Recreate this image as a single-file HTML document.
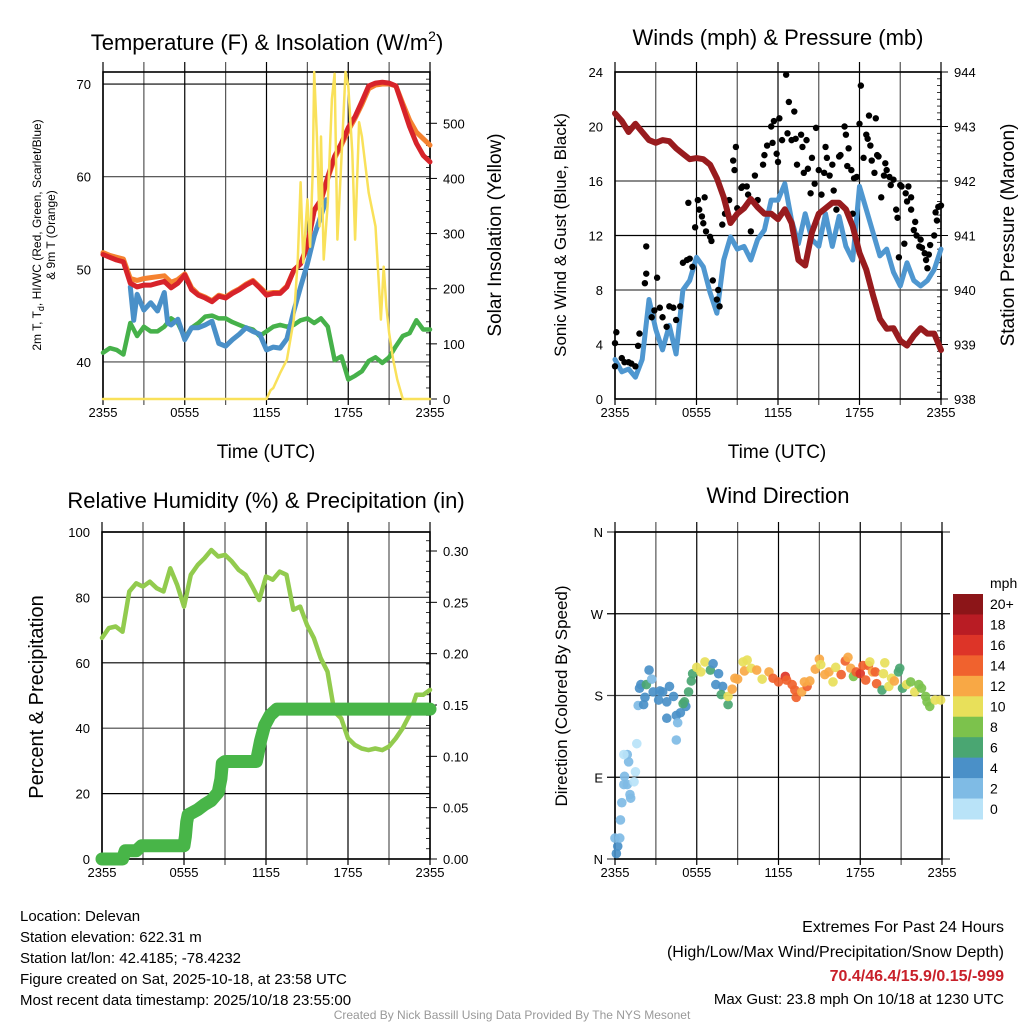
<!DOCTYPE html>
<html><head><meta charset="utf-8"><style>
html,body{margin:0;padding:0;background:#fff}
svg{display:block;font-family:"Liberation Sans",sans-serif}
</style></head><body>
<svg id="root" width="1024" height="1024" viewBox="0 0 1024 1024">
<g fill="#000">
<text x="267" y="50" font-size="22" text-anchor="middle">Temperature (F) &amp; Insolation (W/m<tspan font-size="14" dy="-9">2</tspan><tspan dy="9">)</tspan></text>
<text x="778" y="45" font-size="22" text-anchor="middle">Winds (mph) &amp; Pressure (mb)</text>
<text x="266" y="508" font-size="22" text-anchor="middle">Relative Humidity (%) &amp; Precipitation (in)</text>
<text x="778" y="503" font-size="22" text-anchor="middle">Wind Direction</text>
<text x="266" y="458" font-size="19" text-anchor="middle">Time (UTC)</text>
<text x="777" y="458" font-size="19" text-anchor="middle">Time (UTC)</text>
<text transform="translate(41,235) rotate(-90)" font-size="12" text-anchor="middle">2m T, T<tspan font-size="9" dy="3">d</tspan><tspan dy="-3">, HI/WC (Red, Green, Scarlet/Blue)</tspan></text>
<text transform="translate(55,235) rotate(-90)" font-size="12" text-anchor="middle">&amp; 9m T (Orange)</text>
<text transform="translate(501,235) rotate(-90)" font-size="19" text-anchor="middle">Solar Insolation (Yellow)</text>
<text transform="translate(566,235) rotate(-90)" font-size="17" text-anchor="middle">Sonic Wind &amp; Gust (Blue, Black)</text>
<text transform="translate(1014,235) rotate(-90)" font-size="19" text-anchor="middle">Station Pressure (Maroon)</text>
<text transform="translate(43,697) rotate(-90)" font-size="20" text-anchor="middle">Percent &amp; Precipitation</text>
<text transform="translate(567,696) rotate(-90)" font-size="17" text-anchor="middle">Direction (Colored By Speed)</text>
</g>
<g font-size="15" fill="#000">
<text x="20" y="921">Location: Delevan</text>
<text x="20" y="942">Station elevation: 622.31 m</text>
<text x="20" y="963">Station lat/lon: 42.4185; -78.4232</text>
<text x="20" y="984">Figure created on Sat, 2025-10-18, at 23:58 UTC</text>
<text x="20" y="1005">Most recent data timestamp: 2025/10/18 23:55:00</text>
</g>
<g font-size="15" fill="#000" text-anchor="end">
<text x="1004" y="932" font-size="16">Extremes For Past 24 Hours</text>
<text x="1004" y="957" font-size="16">(High/Low/Max Wind/Precipitation/Snow Depth)</text>
<text x="1004" y="981" font-size="16" font-weight="bold" fill="#c8202a">70.4/46.4/15.9/0.15/-999</text>
<text x="1004" y="1004">Max Gust: 23.8 mph On 10/18 at 1230 UTC</text>
</g>
<text x="512" y="1019" font-size="12" fill="#999" text-anchor="middle">Created By Nick Bassill Using Data Provided By The NYS Mesonet</text>
</svg>
<script>
// ---------- DATA ----------
const lineTimes=[0,0.5,1,1.5,2,2.5,3,3.5,4,4.5,5,5.5,6,6.5,7,7.5,8,8.5,9,9.5,10,10.5,11,11.5,12,12.5,13,13.5,14,14.5,15,15.5,16,16.5,17,17.5,18,18.5,19,19.5,20,20.5,21,21.5,22,22.5,23,23.5,24];
const tempRed=[51.6,51.3,51.0,50.8,48.5,48.1,48.3,48.3,48.5,48.7,48.0,48.5,49.4,47.8,47.2,46.9,46.5,47.1,46.9,47.4,47.8,48.3,48.7,48.0,47.2,47.4,47.4,48.1,49.9,50.6,52.6,56.4,57.5,60.0,62.2,63.6,65.3,66.5,68.1,69.8,70.1,70.2,70.1,69.8,67.6,65.4,63.6,62.3,61.6];
const temp9m=[51.8,51.5,51.3,51.1,49.0,48.8,49.0,49.1,49.2,49.3,48.6,48.9,49.5,48.0,47.3,47.0,46.6,47.2,47.0,47.5,47.9,48.4,48.8,48.1,47.4,47.5,47.5,48.2,49.9,50.6,52.6,56.3,57.4,59.8,62.0,63.4,65.0,66.3,67.8,69.5,69.9,70.0,70.0,69.8,67.9,66.1,64.8,64.1,63.4];
const dewGreen=[41.0,41.5,41.3,40.8,44.2,42.8,43.8,43.3,43.3,43.8,44.7,44.2,42.6,43.7,44.2,44.9,45.0,44.7,44.7,44.3,44.0,43.7,43.5,42.8,43.3,43.8,44.0,43.8,44.0,44.5,44.7,44.2,44.7,43.8,40.2,40.6,38.1,38.5,39.0,40.1,40.5,39.9,40.5,41.7,42.8,43.1,44.5,43.5,43.5];
const hiwcTimes=[2,2.25,2.5,3,3.5,4,4.5,4.75,5,5.5,6,6.5,7,7.5,8,8.5,9,9.5,10,10.5,11,11.5,12,12.5,13,13.5,14,14.5,15,15.5,16,16.4];
const hiwcBlue=[48.1,44.5,47.3,45.6,46.4,45.5,47.5,44.2,44.0,44.6,42.4,43.7,43.7,44.0,44.4,42.0,41.7,42.4,43.0,43.7,43.3,43.0,41.3,41.6,41.5,42.5,45.5,48.1,50.6,53.6,55.8,57.5];
const solarTimes=[0,12,12.3,12.5,13,13.5,14,14.3,14.5,14.7,15,15.2,15.4,15.5,15.7,15.9,16,16.2,16.5,16.8,17,17.2,17.5,17.8,18,18.3,18.5,18.8,19,19.5,20,20.2,20.4,20.6,20.8,21,21.3,21.6,22,24];
const solarValues=[0,0,16,20,47,71,144,253,393,247,362,276,416,593,476,313,476,253,356,544,590,289,434,593,567,447,289,502,476,374,313,229,144,240,167,120,71,35,0,0];
const pressure=[943.24,943.1,942.9,943.05,942.9,942.75,942.7,942.75,942.73,942.6,942.5,942.4,942.42,942.4,942.3,942.05,941.7,941.23,941.4,941.5,941.67,941.52,941.4,941.4,941.3,941.48,941.23,940.55,940.45,941.06,941.4,941.5,941.6,941.6,941.48,941.17,940.68,940.37,939.9,939.47,939.29,939.3,939.07,938.98,939.16,939.3,939.2,939.2,938.9];
const windSpeed=[2.9,2.0,2.2,1.6,2.9,7.3,5.1,3.6,5.4,3.3,8.0,8.7,10.4,9.7,7.8,6.3,10.2,11.9,11.0,11.2,10.2,11.7,12.4,14.6,14.6,15.8,13.1,11.4,13.6,11.7,11.2,13.6,11.2,13.4,11.2,10.2,15.6,13.9,12.2,10.5,11.0,9.3,8.3,10.0,8.7,8.3,8.7,9.5,11.0];
const gustTimes=[0.0,0.1,0.0,0.5,1.0,1.5,1.8,2.2,2.3,2.3,2.7,3.1,3.3,3.8,4.0,4.5,4.8,5.0,5.3,5.4,5.7,5.9,6.1,6.4,6.6,6.7,7.1,7.2,7.5,7.7,7.9,8.4,8.7,8.9,9.0,9.3,9.7,10.0,10.3,10.5,11.0,11.2,11.5,11.7,12.0,12.1,12.3,12.6,12.8,13.0,13.2,13.4,13.7,13.9,14.2,14.4,14.7,14.8,15.0,15.2,15.5,15.8,16.1,16.3,16.5,16.9,17.1,17.4,17.5,17.8,18.0,18.1,18.5,18.7,18.9,19.2,19.4,19.6,19.9,20.2,20.5,20.8,20.9,21.1,21.3,21.5,21.8,22.0,22.2,22.4,22.6,22.9,23.0,23.2,23.5,23.7,24.0,0.7,1.2,1.7,2.9,3.5,4.3,5.5,6.2,6.5,7.0,7.6,8.1,8.8,9.4,9.8,10.9,11.6,11.9,12.7,13.3,13.8,14.1,14.5,15.4,15.6,16.0,16.6,17.0,17.2,17.6,18.3,18.6,18.8,19.1,19.3,19.8,20.0,20.3,20.7,21.0,21.4,21.6,21.8,22.1,22.5,22.8,23.1,23.6,23.8];
const gustSpeeds=[4.1,4.9,2.4,3.0,2.7,2.4,4.8,8.5,9.2,11.2,6.0,8.9,6.7,5.3,6.8,5.8,6.8,10.0,10.2,14.4,9.7,12.6,14.6,13.4,14.8,12.3,11.6,8.7,7.3,6.8,12.8,14.6,17.5,18.5,14.0,15.5,15.6,12.3,16.4,14.6,17.9,18.6,20.0,20.4,17.4,20.6,19.0,23.8,21.8,19.0,21.1,17.2,19.4,16.6,16.9,15.1,15.8,19.9,16.8,15.0,18.5,16.4,15.3,13.9,17.8,20.0,17.1,16.8,13.6,16.3,20.2,23.0,19.4,20.8,17.5,20.6,17.8,14.8,17.3,16.3,16.1,13.3,10.4,15.6,11.4,14.5,13.9,12.4,12.0,11.2,11.1,10.2,9.6,11.3,12.0,13.1,14.2,2.7,2.6,3.9,6.5,6.0,6.7,10.3,13.9,12.9,11.9,8.0,13.6,16.8,15.6,15.0,17.2,18.8,18.0,19.5,19.1,18.5,19.0,17.7,16.6,17.7,17.2,17.9,19.4,18.4,16.2,17.7,19.1,18.6,16.6,17.9,16.4,16.8,15.7,13.9,15.7,15.1,15.6,14.8,13.0,11.7,10.7,10.6,13.7,14.1];
const rhValues=[67.6,70.6,71.1,69.5,81.8,84.3,83.3,84.8,82.8,81.8,88.9,83.8,77.2,86.9,89.9,92.0,94.5,92.5,93.0,91.0,88.4,86.9,83.3,79.2,86.4,85.4,87.9,86.9,76.2,77.2,71.6,67.6,61.4,57.3,45.1,43.0,36.9,34.9,33.8,33.3,33.8,33.3,34.4,36.9,40.0,44.0,50.2,50.2,51.7];
const precipTimes=[0,1.5,1.7,2.5,2.9,6.0,6.1,6.2,6.3,7.0,7.5,8.0,8.5,8.7,8.8,9.0,11.3,11.6,11.9,12.3,12.8,13.0,24];
const precipValues=[0,0,0.008,0.008,0.013,0.013,0.022,0.036,0.043,0.048,0.053,0.057,0.065,0.078,0.093,0.095,0.095,0.115,0.13,0.14,0.146,0.146,0.146];
const dirTimes=[0.1,0.2,0,0.35,0.4,0.5,1.15,1.1,0.65,0.9,1.4,0.7,1.5,1.0,0.9,0.65,1.6,4.5,1.7,2.1,2.2,1.8,1.9,2.3,2.7,2.5,2.8,3.2,3.3,3.5,3.8,4.0,4.3,3.8,4.5,4.6,4.8,5.1,5.2,5.0,5.4,5.6,5.7,6.0,6.3,6.6,7.0,7.2,7.6,7.4,7.9,7.8,8.3,8.3,8.6,8.8,9.0,9.4,9.7,9.5,10.0,10.4,10.8,11.3,11.6,12.0,12.5,12.6,13.0,13.3,13.2,13.7,14.1,13.9,14.3,14.7,15.0,15.1,15.4,15.7,16.0,16.2,16.6,16.9,17.1,17.3,17.5,17.7,18.0,18.2,18.4,18.6,18.7,18.9,19.1,19.2,19.7,19.8,19.6,20.1,20.3,20.5,20.8,20.9,21.1,21.4,21.7,22.0,22.3,22.5,22.8,22.9,23.1,23.5,23.9];
const dirValues=[6,14,23,23,43,62,67,71,82,82,85,91,96,107,115,115,127,131,169,170,178,188,192,192,198,208,184,175,185,184,173,190,179,155,158,150,161,173,168,171,184,196,204,211,206,217,208,215,204,192,190,181,170,179,187,199,198,217,219,207,210,208,198,206,199,195,201,197,192,178,186,184,190,195,196,209,220,214,203,206,195,211,203,218,222,210,201,206,204,213,197,213,217,206,206,193,204,216,186,190,199,196,206,210,188,192,195,184,192,188,179,173,168,175,175];
const dirSpeeds=[4,4,3,3,3,3,3,3,3,3,1,3,1,3,3,1,1,3,3,4,5,4,4,6,3,4,4,5,4,4,4,4,5,4,4,3,4,6,5,7,7,7,7,11,10,10,6,5,4,5,5,6,7,10,12,12,13,10,11,12,10,12,10,12,14,14,16,15,14,15,15,13,14,12,12,12,12,11,12,12,11,11,14,14,13,12,8,15,16,14,15,14,11,13,15,14,10,10,6,10,10,13,7,7,6,10,8,10,8,8,8,8,8,10,10];
const speedColors=["#b9e3f8","#7fbbe5","#4a90c8","#4aa672","#7cc24c","#e8e05a","#f8a845","#f0622e","#dd3428","#b91c24","#8c1518"];
const speedLabels=["0","2","4","6","8","10","12","14","16","18","20+"];
const xTickLabels=["2355","0555","1155","1755","2355"];
const p1LeftTicks=[40,50,60,70];
const p1RightTicks=[0,100,200,300,400,500];
const p2LeftTicks=[0,4,8,12,16,20,24];
const p2RightTicks=[938,939,940,941,942,943,944];
const p3LeftTicks=[0,20,40,60,80,100];
const p3RightTicks=[0.00,0.05,0.10,0.15,0.20,0.25,0.30];
const p4Ticks=[0,90,180,270,360];
const p4TickLabels=["N","E","S","W","N"];

// ---------- HELPERS ----------
const NS="http://www.w3.org/2000/svg";
const root=document.getElementById("root");
function el(tag,attrs,parent){const e=document.createElementNS(NS,tag);for(const k in attrs)e.setAttribute(k,attrs[k]);(parent||root).appendChild(e);return e;}
function lin(d0,d1,r0,r1){return v=>r0+(v-d0)/(d1-d0)*(r1-r0);}
function pathFrom(xs,ys){return xs.map((x,i)=>(i?"L":"M")+x.toFixed(1)+" "+ys[i].toFixed(1)).join("");}

function panel(name,x0,x1,y0,y1,opt){
  const g=el("g",{});
  
  
  const xs=lin(0,24,x0,x1);
  for(let h=0;h<=24;h+=3){
    const ln=el("line",{x1:xs(h),x2:xs(h),y1:y0-10,y2:y1+6,stroke:(h%6==0?"#000":"#555"),"stroke-width":1.2},g);
    
    
  }
  xTickLabels.forEach((lab,i)=>{
    const t=el("text",{x:xs(i*6),y:y1+18,"font-size":13,"text-anchor":"middle"},g);
    t.textContent=lab;
    
    
  });
  opt.left.forEach((v,i)=>{
    const y=opt.ly(v);
    const ln=el("line",{x1:x0-(opt.ext||0),x2:x1+(opt.ext||0),y1:y,y2:y,stroke:(i%2?"#000":"#444"),"stroke-width":1.2},g);
    
    
    const t=el("text",{x:x0-12,y:y+5,"font-size":13,"text-anchor":"end"},g);
    t.textContent=opt.leftLab?opt.leftLab[i]:String(v);
    
    
  });
  if(opt.right){
    opt.right.forEach(v=>{
      const y=opt.ry(v);
      const ln=el("line",{x1:x1,x2:x1+7,y1:y,y2:y,stroke:"#000","stroke-width":1},g);
      
      
      const t=el("text",{x:x1+13,y:y+5,"font-size":13},g);
      t.textContent=opt.rightFmt?opt.rightFmt(v):String(v);
      
      
    });
    for(let v=opt.rmin;v<=opt.rmax+1e-9;v+=opt.rminor){
      const y=opt.ry(v);
      if(y<y0-0.5||y>y1+0.5)continue;
      const ln=el("line",{x1:x1-4,x2:x1,y1:y,y2:y,stroke:"#000","stroke-width":0.8},g);
      
      
    }
  }
  const fr=el("rect",{x:x0,y:y0,width:x1-x0,height:y1-y0,fill:"none",stroke:"#000","stroke-width":1.6},g);
  
  
  return xs;
}

// ---------- PANEL 1 ----------
const p1y=lin(36,71.3,399,72), p1s=lin(0,593,399,72);
const x1s=panel("temperature",103,430,72,399,{left:p1LeftTicks,ly:p1y,right:p1RightTicks,ry:p1s,rmin:0,rmax:593,rminor:20});
function drawLine(xs,ts,vs,ys,color,w,name){
  const p=el("path",{d:pathFrom(ts.map(xs),vs.map(ys)),fill:"none",stroke:color,"stroke-width":w,"stroke-linejoin":"round","stroke-linecap":"round"});
  
  
  return p;
}
drawLine(x1s,lineTimes,dewGreen,p1y,"#46b14a",4.5,"dewpoint-line");
drawLine(x1s,hiwcTimes,hiwcBlue,p1y,"#4a90c8",5,"heat-index-windchill-line");
drawLine(x1s,lineTimes,temp9m,p1y,"#f58230",5,"temperature-9m-line");
drawLine(x1s,lineTimes,tempRed,p1y,"#d7232a",5,"temperature-2m-line");
drawLine(x1s,solarTimes,solarValues,p1s,"#f9e15a",2.5,"solar-insolation-line");

// ---------- PANEL 2 ----------
const p2y=lin(0,24,399,72), p2p=lin(938,944,399,72);
const x2s=panel("winds",615,941,72,399,{left:p2LeftTicks,ly:p2y,right:p2RightTicks,ry:p2p,rmin:938,rmax:944,rminor:0.125});
drawLine(x2s,lineTimes,windSpeed,p2y,"#4f97d0",5,"sonic-wind-line");
gustTimes.forEach((t,i)=>{
  const c=el("circle",{cx:x2s(t),cy:p2y(gustSpeeds[i]),r:3.2,fill:"#000"});
  
  
});
drawLine(x2s,lineTimes,pressure,p2p,"#981b1e",6,"pressure-line");

// ---------- PANEL 3 ----------
const p3y=lin(0,100,859,532), p3p=lin(0,0.3,859,551);
const x3s=panel("humidity",102,430,532,859,{left:p3LeftTicks,ly:p3y,right:p3RightTicks,ry:p3p,rmin:0,rmax:0.318,rminor:0.01,rightFmt:v=>v.toFixed(2)});
drawLine(x3s,lineTimes,rhValues,p3y,"#92cb4e",4.5,"relative-humidity-line");
drawLine(x3s,precipTimes,precipValues,p3p,"#48b548",13,"precipitation-line");

// ---------- PANEL 4 ----------
const p4y=lin(0,360,859,532);
const x4s=panel("wind-direction",615,942,532,859,{left:p4Ticks,ly:p4y,leftLab:p4TickLabels,ext:8});
dirTimes.forEach((t,i)=>{
  const bin=Math.min(10,Math.floor(dirSpeeds[i]/2));
  const c=el("circle",{cx:x4s(t),cy:p4y(dirValues[i]),r:4.8,fill:speedColors[bin],"fill-opacity":0.92});
  
  
});
// colorbar
const cb=el("g",{});


const mphT=el("text",{x:990,y:588,"font-size":14},cb);
mphT.textContent="mph";


const cbTop=594, cbH=225/11;
speedColors.slice().reverse().forEach((col,i)=>{
  const r=el("rect",{x:953,y:cbTop+i*cbH,width:30,height:cbH+0.5,fill:col},cb);
  
  
  const t=el("text",{x:990,y:cbTop+i*cbH+cbH/2+5,"font-size":14},cb);
  t.textContent=speedLabels[10-i];
  
  
});
</script>
</body></html>
